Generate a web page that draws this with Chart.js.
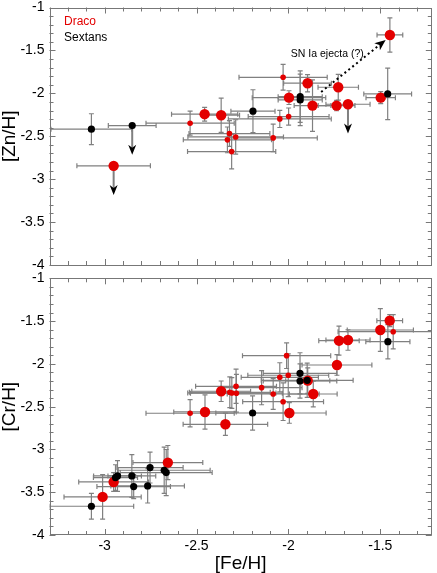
<!DOCTYPE html>
<html>
<head>
<meta charset="utf-8">
<script src="https://cdn.jsdelivr.net/npm/chart.js@4"></script>
<style>
  html, body { margin: 0; padding: 0; background: #fff; }
  #wrap { position: relative; width: 437px; height: 573px; overflow: hidden; }
  canvas { position: absolute; left: 0; }
  #top { top: 0; width: 437px; height: 280px; }
  #bot { top: 270px; width: 437px; height: 303px; }
</style>
</head>
<body>
<div id="wrap">
  <canvas id="top" width="437" height="280"></canvas>
  <canvas id="bot" width="437" height="303"></canvas>
</div>
<script>
/* [Zn/H] and [Cr/H] vs [Fe/H] for Draco (red) and Sextans (black) stars. */

// axis ticks
const xTicks = [-3, -2.5, -2, -1.5];
const yTicks = [-4, -3.5, -3, -2.5, -2, -1.5, -1];
const X_MIN = -3.3, X_MAX = -1.22;
const Y_MIN = -4, Y_MAX = -1;

// each row: [Fe/H], [X/H], Fe error, X error, upper limit (1 = yes)
const znSextans = [
  [-3.072, -2.418, 0.22, 0.18, 0],
  [-2.850, -2.376, 0.13, 0, 1],
  [-2.193, -2.208, 0.12, 0.25, 0],
  [-1.936, -2.039, 0.12, 0.30, 0],
  [-1.936, -2.077, 0.12, 0.30, 0],
  [-1.460, -2.007, 0.13, 0.30, 0],
];
const znDracoBig = [
  [-2.951, -2.845, 0.20, 0, 1],
  [-2.456, -2.243, 0.18, 0.08, 0],
  [-2.366, -2.255, 0.10, 0.20, 0],
  [-1.997, -2.050, 0.20, 0.08, 0],
  [-1.896, -1.882, 0.13, 0.10, 0],
  [-1.869, -2.143, 0.10, 0.30, 0],
  [-1.738, -2.143, 0.10, 0.06, 0],
  [-1.729, -1.929, 0.11, 0.15, 0],
  [-1.676, -2.127, 0.12, 0, 1],
  [-1.498, -2.050, 0.08, 0.07, 0],
  [-1.448, -1.320, 0.07, 0.20, 0],
];
const znDracoSmall = [
  [-2.535, -2.348, 0.24, 0.14, 0],
  [-2.321, -2.469, 0.22, 0.15, 0],
  [-2.332, -2.542, 0.24, 0.15, 0],
  [-2.287, -2.508, 0.26, 0.20, 0],
  [-2.309, -2.679, 0.24, 0.20, 0],
  [-2.083, -2.519, 0.24, 0.16, 0],
  [-2.047, -2.298, 0.28, 0.10, 0],
  [-1.999, -2.271, 0.22, 0.10, 0],
  [-2.029, -1.813, 0.24, 0.15, 0],
];

const crSextans = [
  [-3.072, -3.664, 0.23, 0.15, 0],
  [-2.941, -3.329, 0.12, 0.15, 0],
  [-2.930, -3.310, 0.13, 0.18, 0],
  [-2.852, -3.310, 0.13, 0.25, 0],
  [-2.842, -3.434, 0.20, 0.14, 0],
  [-2.766, -3.426, 0.20, 0.20, 0],
  [-2.753, -3.212, 0.18, 0.18, 0],
  [-2.676, -3.243, 0.25, 0.27, 0],
  [-2.665, -3.271, 0.25, 0.27, 0],
  [-2.195, -2.574, 0.20, 0.20, 0],
  [-1.937, -2.110, 0.20, 0.24, 0],
  [-1.937, -2.200, 0.20, 0.20, 0],
  [-1.898, -2.192, 0.25, 0.20, 0],
  [-1.459, -1.741, 0.12, 0.20, 0],
];
const crDracoBig = [
  [-3.011, -3.555, 0.21, 0.26, 0],
  [-2.951, -3.380, 0.19, 0.11, 0],
  [-2.656, -3.154, 0.19, 0.20, 0],
  [-2.454, -2.562, 0.17, 0.20, 0],
  [-2.366, -2.320, 0.16, 0.12, 0],
  [-2.343, -2.706, 0.23, 0.13, 0],
  [-1.995, -2.574, 0.20, 0.12, 0],
  [-1.895, -2.196, 0.12, 0.15, 0],
  [-1.865, -2.352, 0.13, 0.15, 0],
  [-1.736, -2.013, 0.19, 0.12, 0],
  [-1.725, -1.729, 0.11, 0.17, 0],
  [-1.676, -1.721, 0.12, 0.12, 0],
  [-1.500, -1.604, 0.18, 0.25, 0],
  [-1.449, -1.495, 0.07, 0.07, 0],
];
const crDracoSmall = [
  [-2.535, -2.577, 0.24, 0.16, 0],
  [-2.319, -2.332, 0.22, 0.18, 0],
  [-2.308, -2.340, 0.24, 0.18, 0],
  [-2.285, -2.262, 0.22, 0.20, 0],
  [-2.283, -2.343, 0.25, 0.22, 0],
  [-2.146, -2.278, 0.22, 0.20, 0],
  [-2.083, -2.352, 0.25, 0.18, 0],
  [-2.047, -2.157, 0.21, 0.17, 0],
  [-2.029, -2.442, 0.22, 0.22, 0],
  [-2.010, -1.904, 0.24, 0.15, 0],
  [-2.001, -2.133, 0.22, 0.25, 0],
  [-1.430, -1.624, 0.30, 0.20, 0],
];

// SN Ia annotation (data coordinates)
const snNote = { text: "SN Ia ejecta (?)", at: [-1.59, -1.541], from: [-1.822, -1.984], to: [-1.471, -1.378] };

const RED = "#e30000";
const BAR = "#808080";
const FONT = "'Liberation Sans', Arial, Helvetica, sans-serif";
Chart.defaults.font.family = FONT;

const pts = (rows) => rows.map(([x, y, xe, ye, ul]) => ({ x, y, xe, ye, ul }));
const fmt = (v) => String(Number(Number(v).toFixed(2)));

// error bars + upper-limit arrows, under the points
const errorBars = {
  id: "errorBars",
  beforeDatasetsDraw(chart) {
    const { ctx, chartArea: a, scales: { x, y } } = chart;
    ctx.save();
    ctx.beginPath();
    ctx.rect(a.left, a.top, a.width, a.height);
    ctx.clip();
    ctx.strokeStyle = BAR;
    ctx.lineWidth = 1.2;
    chart.data.datasets.forEach((ds) => ds.data.forEach((p) => {
      const cx = x.getPixelForValue(p.x), cy = y.getPixelForValue(p.y);
      const x0 = x.getPixelForValue(p.x - p.xe), x1 = x.getPixelForValue(p.x + p.xe);
      ctx.beginPath();
      ctx.moveTo(x0, cy); ctx.lineTo(x1, cy);
      ctx.moveTo(x0, cy - 2.5); ctx.lineTo(x0, cy + 2.5);
      ctx.moveTo(x1, cy - 2.5); ctx.lineTo(x1, cy + 2.5);
      if (!p.ul && p.ye > 0) {
        const y0 = y.getPixelForValue(p.y + p.ye), y1 = y.getPixelForValue(p.y - p.ye);
        ctx.moveTo(cx, y0); ctx.lineTo(cx, y1);
        ctx.moveTo(cx - 2.5, y0); ctx.lineTo(cx + 2.5, y0);
        ctx.moveTo(cx - 2.5, y1); ctx.lineTo(cx + 2.5, y1);
      }
      ctx.stroke();
      if (p.ul) {
        const tip = y.getPixelForValue(p.y - 0.34);
        ctx.save();
        ctx.lineWidth = 2;
        ctx.beginPath(); ctx.moveTo(cx, cy); ctx.lineTo(cx, tip - 5); ctx.stroke();
        ctx.fillStyle = "#000";
        ctx.beginPath();
        ctx.moveTo(cx, tip);
        ctx.lineTo(cx - 4, tip - 10);
        ctx.lineTo(cx, tip - 7);
        ctx.lineTo(cx + 4, tip - 10);
        ctx.closePath();
        ctx.fill();
        ctx.restore();
      }
    }));
    ctx.restore();
  },
};

// frame with inward major/minor ticks on all four sides
const frame = {
  id: "frame",
  afterDraw(chart) {
    const { ctx, chartArea: a, scales: { x, y } } = chart;
    ctx.save();
    ctx.strokeStyle = "#777";
    ctx.lineWidth = 1;
    ctx.beginPath();
    for (let i = Math.ceil(X_MIN * 10); i <= Math.floor(X_MAX * 10); i++) {
      const p = Math.round(x.getPixelForValue(i / 10)) + 0.5;
      const len = i % 5 === 0 ? 6 : 4;
      ctx.moveTo(p, a.bottom); ctx.lineTo(p, a.bottom - len);
      ctx.moveTo(p, a.top); ctx.lineTo(p, a.top + len);
    }
    for (let i = Y_MIN * 10; i <= Y_MAX * 10; i++) {
      const p = Math.round(y.getPixelForValue(i / 10)) + 0.5;
      const len = i % 5 === 0 ? 6 : 4;
      ctx.moveTo(a.left, p); ctx.lineTo(a.left + len, p);
      ctx.moveTo(a.right, p); ctx.lineTo(a.right - len, p);
    }
    ctx.stroke();
    ctx.strokeRect(Math.round(a.left) + 0.5, Math.round(a.top) + 0.5,
                   Math.round(a.width) - 1, Math.round(a.height) - 1);
    ctx.restore();
  },
};

// legend text and SN Ia note, top panel only
const topNotes = {
  id: "topNotes",
  afterDatasetsDraw(chart) {
    const { ctx, scales: { x, y } } = chart;
    ctx.save();
    ctx.font = "12px " + FONT;
    ctx.textBaseline = "middle";
    ctx.textAlign = "left";
    ctx.fillStyle = RED;
    ctx.fillText("Draco", 64, 21.5);
    ctx.fillStyle = "#000";
    ctx.fillText("Sextans", 64, 37.5);

    ctx.font = "10.5px " + FONT;
    ctx.textAlign = "right";
    ctx.fillText(snNote.text, x.getPixelForValue(snNote.at[0]), y.getPixelForValue(snNote.at[1]));

    const fx = x.getPixelForValue(snNote.from[0]), fy = y.getPixelForValue(snNote.from[1]);
    const tx = x.getPixelForValue(snNote.to[0]), ty = y.getPixelForValue(snNote.to[1]);
    const ang = Math.atan2(ty - fy, tx - fx);
    ctx.strokeStyle = "#000";
    ctx.lineWidth = 2;
    ctx.setLineDash([2, 3]);
    ctx.beginPath();
    ctx.moveTo(fx, fy);
    ctx.lineTo(tx - 8 * Math.cos(ang), ty - 8 * Math.sin(ang));
    ctx.stroke();
    ctx.setLineDash([]);
    ctx.translate(tx, ty);
    ctx.rotate(ang);
    ctx.beginPath();
    ctx.moveTo(0, 0);
    ctx.lineTo(-11, -4.5);
    ctx.lineTo(-8, 0);
    ctx.lineTo(-11, 4.5);
    ctx.closePath();
    ctx.fill();
    ctx.restore();
  },
};

function makeChart(id, yTitle, sextans, dracoSmall, dracoBig, opts) {
  const tickFont = { family: FONT, size: 14, lineHeight: 1 };
  return new Chart(document.getElementById(id), {
    type: "scatter",
    data: {
      datasets: [
        { label: "Sextans", data: pts(sextans), backgroundColor: "#000", borderColor: "#000", pointRadius: 3.6 },
        { label: "Draco", data: pts(dracoSmall), backgroundColor: RED, borderColor: RED, pointRadius: 2.8 },
        { label: "Draco", data: pts(dracoBig), backgroundColor: RED, borderColor: RED, pointRadius: 5.2 },
      ],
    },
    options: {
      responsive: false,
      animation: false,
      layout: { padding: opts.padding },
      elements: { point: { borderWidth: 0, hoverRadius: 0 } },
      plugins: { legend: { display: false }, tooltip: { enabled: false } },
      scales: {
        x: {
          type: "linear", min: X_MIN, max: X_MAX,
          afterBuildTicks: (s) => { s.ticks = xTicks.map((v) => ({ value: v })); },
          afterFit: (s) => { s.height = opts.xHeight; s.paddingLeft = 0; s.paddingRight = 0; },
          grid: { display: false, drawTicks: false },
          border: { display: false },
          ticks: { display: opts.showX, padding: 4, color: "#000", font: tickFont, autoSkip: false, maxRotation: 0, callback: fmt },
          title: { display: opts.showX, text: "[Fe/H]", color: "#000", padding: 0, font: { family: FONT, size: 19, lineHeight: 1 } },
        },
        y: {
          type: "linear", min: Y_MIN, max: Y_MAX,
          afterBuildTicks: (s) => { s.ticks = yTicks.map((v) => ({ value: v })); },
          afterFit: (s) => { s.width = 49; s.paddingTop = 0; s.paddingBottom = 0; },
          grid: { display: false, drawTicks: false },
          border: { display: false },
          ticks: { padding: 5, color: "#000", font: tickFont, autoSkip: false, callback: fmt },
          title: { display: true, text: yTitle, color: "#000", padding: 0, font: { family: FONT, size: 19, lineHeight: 1 } },
        },
      },
    },
    plugins: [errorBars, frame].concat(opts.extra || []),
  });
}

makeChart("top", "[Zn/H]", znSextans, znDracoSmall, znDracoBig, {
  padding: { left: 0.5, right: 2.5, top: 7.5, bottom: 15 }, xHeight: 0, showX: false, extra: [topNotes],
});
makeChart("bot", "[Cr/H]", crSextans, crDracoSmall, crDracoBig, {
  padding: { left: 0.5, right: 2.5, top: 8.3, bottom: 0 }, xHeight: 38, showX: true,
});
</script>
</body>
</html>
